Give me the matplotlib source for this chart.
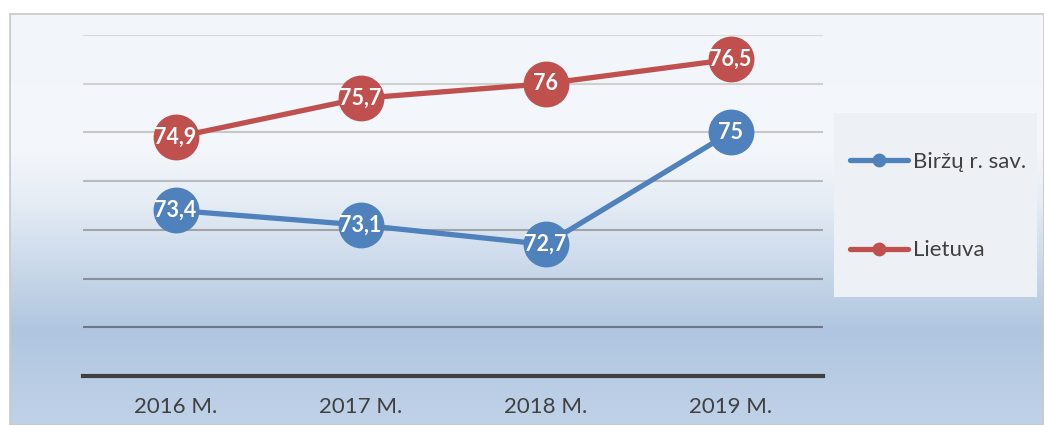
import matplotlib.pyplot as plt
import numpy as np
from matplotlib.colors import LinearSegmentedColormap
from matplotlib.patches import Rectangle

years = ['2016 M.', '2017 M.', '2018 M.', '2019 M.']
birzai = [73.4, 73.1, 72.7, 75.0]
lietuva = [74.9, 75.7, 76.0, 76.5]
labels = ['Biržų r. sav.', 'Lietuva']

plt.rcParams['font.family'] = ['Lato', 'DejaVu Sans']

W, H = 1044, 425
fig = plt.figure(figsize=(W / 100, H / 100), dpi=100)

# background gradient
bg = fig.add_axes([10 / W, 0, 1 - 10 / W, (H - 14) / H])
grad = LinearSegmentedColormap.from_list('bg', [
    (0.0, '#f2f6fa'), (0.33, '#f4f7fb'), (0.45, '#e6edf5'),
    (0.77, '#b0c6e0'), (1.0, '#c0d2e8')])
bg.imshow(np.linspace(0, 1, 256).reshape(-1, 1), aspect='auto', cmap=grad,
          extent=[0, 1, 0, 1], origin='upper')
bg.set_xticks([])
bg.set_yticks([])
for s in bg.spines.values():
    s.set_color('#c8c8c8')
    s.set_linewidth(1.2)
bg.set_zorder(0)

# legend box
fig.patches.append(Rectangle((834 / W, 1 - 297 / H), 203 / W, 184 / H,
                             transform=fig.transFigure, facecolor='#edf1f6',
                             edgecolor='none', zorder=0.5))

ax = fig.add_axes([83 / W, (H - 376) / H, (823 - 83) / W, (376 - 35) / H])
ax.set_zorder(1)
ax.patch.set_alpha(0)
ax.set_xlim(-0.5, 3.5)
ax.set_ylim(70, 77)

grid_colors = ['#6e7785', '#8a9099', '#a0a4a8', '#b8bcc0', '#c8c8c8',
               '#d0d0d0', '#d9d9d9']
for i, c in enumerate(grid_colors):
    ax.axhline(71 + i, color=c, lw=1.5, zorder=1)

x = np.arange(len(years))
for vals, color, lab in [(birzai, '#4f81bd', labels[0]),
                         (lietuva, '#c0504d', labels[1])]:
    ax.plot(x, vals, color=color, lw=3.8, marker='o', ms=32,
            label=lab, zorder=3, solid_capstyle='round')
    for xi, v in zip(x, vals):
        txt = ('%g' % v).replace('.', ',')
        ax.text(xi, v, txt, ha='center', va='center', color='white',
                fontsize=15.5, fontweight='bold', zorder=4)

for s in ['top', 'right', 'left']:
    ax.spines[s].set_visible(False)
ax.spines['bottom'].set_color('#404040')
ax.spines['bottom'].set_linewidth(3)
ax.set_yticks([])
ax.set_xticks(x)
ax.set_xticklabels(years, fontsize=16, color='#404040')
ax.tick_params(axis='x', length=0, pad=15)

leg = ax.legend(loc='center left', bbox_to_anchor=(850 / W, 1 - 206 / H),
                bbox_transform=fig.transFigure, frameon=False,
                markerscale=0.28, labelspacing=3.1, handlelength=2.6,
                handletextpad=0.25, borderpad=0, fontsize=16,
                borderaxespad=0)
for t in leg.get_texts():
    t.set_color('#404040')

fig.savefig('out.png', dpi=100)
